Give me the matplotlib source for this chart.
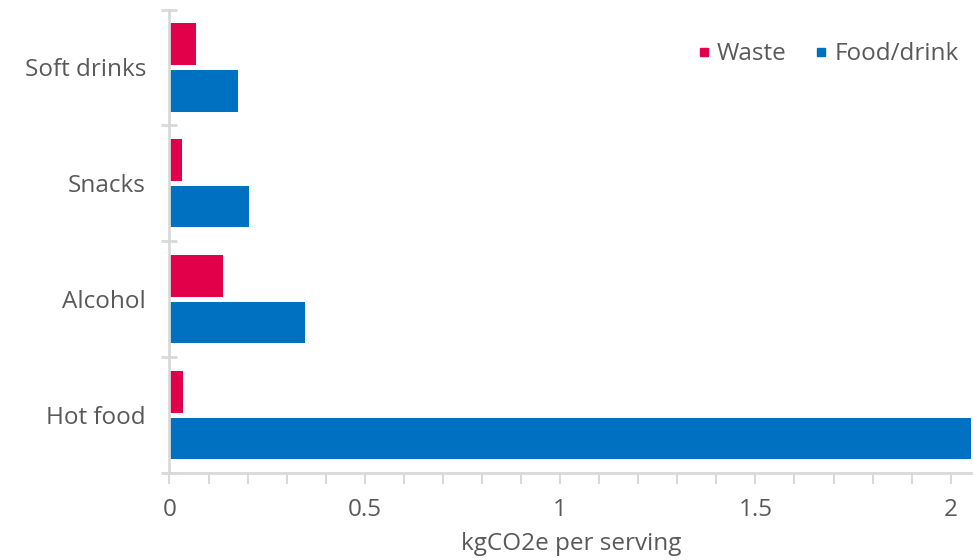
import matplotlib.pyplot as plt
from matplotlib.lines import Line2D
import numpy as np

categories = ["Hot food", "Alcohol", "Snacks", "Soft drinks"]
waste = [0.035, 0.136, 0.032, 0.067]
food_drink = [2.052, 0.348, 0.204, 0.175]

RED = "#E3004A"
BLUE = "#0071C1"
TXT = "#595959"
AX = "#D9D9D9"

plt.rcParams['font.family'] = ['Open Sans', 'DejaVu Sans']

fig = plt.figure(figsize=(9.73, 5.6), dpi=100)
ax = fig.add_axes([0.1742, 0.155, 0.825, 0.828])

y = np.arange(len(categories))
h = 0.36
ax.barh(y + 0.2, waste, height=h, color=RED, label="Waste")
ax.barh(y - 0.2, food_drink, height=h, color=BLUE, label="Food/drink")

ax.set_xlim(0, 2.055)
ax.set_ylim(-0.5, len(categories) - 0.5)

for s in ["top", "right"]:
    ax.spines[s].set_visible(False)
for s in ["left", "bottom"]:
    ax.spines[s].set_color(AX)
    ax.spines[s].set_linewidth(2)

ax.set_yticks(y)
ax.set_yticklabels(categories)
ax.set_yticks(np.arange(-0.5, len(categories)), minor=True)
ax.tick_params(axis="y", which="major", length=0, pad=17, labelsize=17.5, labelcolor=TXT)
ax.tick_params(axis="y", which="minor", length=11, direction="inout", width=2, color=AX)

ax.set_xticks([0, 0.5, 1, 1.5, 2])
ax.set_xticklabels(["0", "0.5", "1", "1.5", "2"])
ax.set_xticks(np.arange(0, 2.05, 0.1), minor=True)
ax.tick_params(axis="x", which="both", length=8, width=1.5, color=AX, direction="out")
ax.tick_params(axis="x", which="major", pad=10, labelsize=17.5, labelcolor=TXT)
ax.set_xlabel("kgCO2e per serving", fontsize=17.5, color=TXT, labelpad=7)

handles = [
    Line2D([], [], marker="s", linestyle="", markersize=6, color=RED, label="Waste"),
    Line2D([], [], marker="s", linestyle="", markersize=6, color=BLUE, label="Food/drink"),
]
leg = ax.legend(handles=handles, loc="upper right", ncol=2, frameon=False,
                fontsize=17.5, handlelength=0.8, handletextpad=0.15, columnspacing=1.0,
                borderaxespad=0.0, bbox_to_anchor=(0.995, 0.95))
for t in leg.get_texts():
    t.set_color(TXT)

fig.savefig("out.png", dpi=100, facecolor="white")
